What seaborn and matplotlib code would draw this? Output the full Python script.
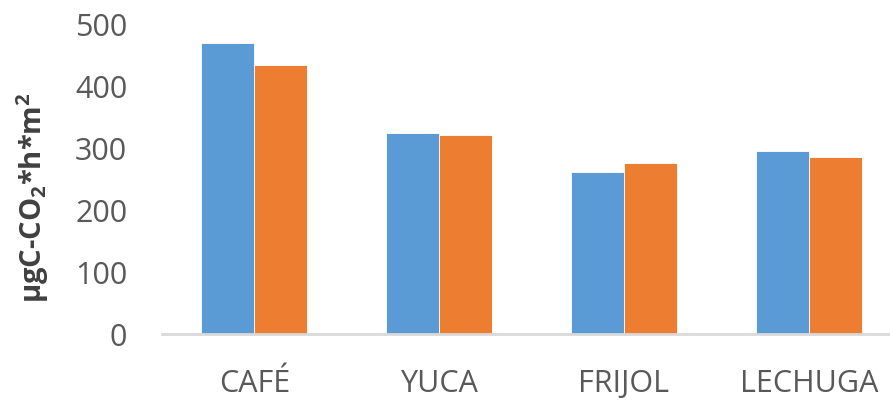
import pandas as pd
import matplotlib.pyplot as plt
import seaborn as sns

# values
cultivos = ['CAFÉ', 'YUCA', 'FRIJOL', 'LECHUGA']
serie_1 = [471, 326, 262, 296]
serie_2 = [436, 322, 276, 287]
ticks_y = [0, 100, 200, 300, 400, 500]

df = pd.DataFrame({
    'cultivo': cultivos * 2,
    'valor': serie_1 + serie_2,
    'serie': ['1'] * len(cultivos) + ['2'] * len(cultivos),
})

sns.set_style('white')
plt.rcParams['font.family'] = ['Open Sans', 'DejaVu Sans']
plt.rcParams['mathtext.fontset'] = 'custom'
plt.rcParams['mathtext.rm'] = 'Open Sans'
plt.rcParams['mathtext.bf'] = 'Open Sans:bold'

fig = plt.figure(figsize=(8.9, 4), dpi=100)
ax = fig.add_axes([0.182, 0.165, 0.818, 0.7725])

sns.barplot(data=df, x='cultivo', y='valor', hue='serie',
            palette=['#5B9BD5', '#ED7D31'], saturation=1, width=0.575, gap=0,
            edgecolor='white', linewidth=0.6, legend=False, ax=ax)

ax.set_ylim(0, 500)
ax.set_xlim(-0.5, 3.44)
ax.set_yticks(ticks_y)
ax.tick_params(axis='both', length=0, labelsize=22, labelcolor='#595959')
ax.tick_params(axis='y', pad=25)
ax.tick_params(axis='x', pad=25)
ax.set_xlabel('')
ax.set_ylabel(r'µgC-CO$_\mathbf{2}$*h*m$^\mathbf{2}$', fontsize=21,
              fontweight='bold', color='#404040')
ax.yaxis.set_label_coords(-0.152, 0.44)

for s in ['top', 'right', 'left']:
    ax.spines[s].set_visible(False)
ax.spines['bottom'].set_color('#D9D9D9')
ax.spines['bottom'].set_linewidth(2)

fig.savefig('out.png', dpi=100)
